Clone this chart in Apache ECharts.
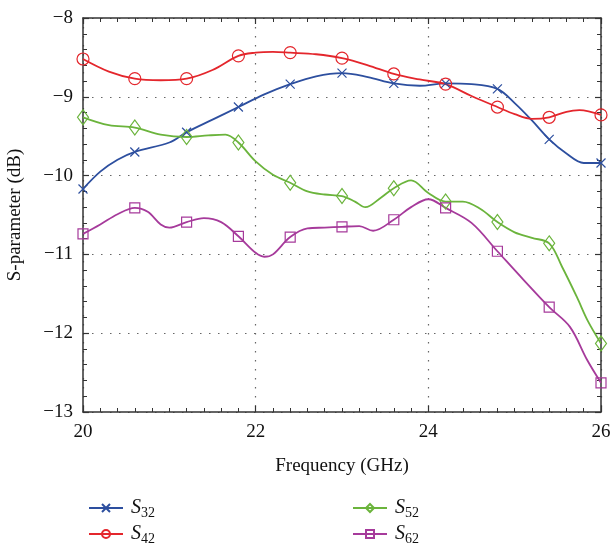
<!DOCTYPE html>
<html>
<head>
<meta charset="utf-8">
<script src="https://cdn.jsdelivr.net/npm/echarts@6/dist/echarts.min.js"></script>
<style>
  html, body { margin: 0; padding: 0; background: #fff; }
  #chart { width: 613px; height: 544px; }
</style>
</head>
<body>
<div id="chart"></div>
<script>
// Frequencies (GHz) where each curve carries a marker
const markerFreqs = [20, 20.6, 21.2, 21.8, 22.4, 23.0, 23.6, 24.2, 24.8, 25.4, 26];

// S32
const s32Freq = [20, 20.2, 20.4, 20.6, 21.0, 21.2, 21.5, 21.8, 22.1, 22.4, 22.7, 23.0, 23.3, 23.6, 23.9, 24.2, 24.5, 24.8, 25.0, 25.2, 25.4, 25.6, 25.8, 26];
const s32Val = [-10.17, -9.95, -9.80, -9.70, -9.58, -9.45, -9.29, -9.13, -8.97, -8.84, -8.74, -8.70, -8.75, -8.83, -8.86, -8.83, -8.84, -8.90, -9.08, -9.30, -9.54, -9.72, -9.84, -9.84];

// S42
const s42Freq = [20, 20.3, 20.6, 20.9, 21.2, 21.5, 21.8, 22.0, 22.2, 22.4, 22.7, 23.0, 23.3, 23.6, 23.9, 24.2, 24.5, 24.8, 25.0, 25.2, 25.4, 25.6, 25.75, 26];
const s42Val = [-8.52, -8.68, -8.77, -8.79, -8.77, -8.66, -8.48, -8.44, -8.43, -8.44, -8.46, -8.51, -8.60, -8.71, -8.78, -8.84, -8.99, -9.13, -9.22, -9.28, -9.26, -9.19, -9.17, -9.23];

// S52
const s52Freq = [20, 20.3, 20.6, 20.9, 21.2, 21.45, 21.65, 21.8, 22.0, 22.2, 22.4, 22.6, 22.8, 23.0, 23.15, 23.27, 23.45, 23.6, 23.8, 24.0, 24.2, 24.4, 24.6, 24.8, 25.0, 25.2, 25.4, 25.55, 25.72, 25.85, 26];
const s52Val = [-9.26, -9.36, -9.39, -9.48, -9.51, -9.49, -9.48, -9.58, -9.82, -9.99, -10.09, -10.20, -10.24, -10.26, -10.33, -10.40, -10.28, -10.16, -10.06, -10.22, -10.33, -10.33, -10.42, -10.59, -10.72, -10.79, -10.86, -11.16, -11.54, -11.85, -12.13];

// S62
const s62Freq = [20, 20.2, 20.4, 20.6, 20.75, 20.9, 21.0, 21.2, 21.4, 21.6, 21.8, 22.0, 22.1, 22.2, 22.4, 22.6, 22.8, 23.0, 23.2, 23.36, 23.6, 23.8, 24.0, 24.2, 24.5, 24.8, 25.1, 25.4, 25.64, 25.84, 26];
const s62Val = [-10.74, -10.62, -10.49, -10.41, -10.46, -10.62, -10.66, -10.59, -10.54, -10.59, -10.77, -10.98, -11.03, -11.00, -10.78, -10.67, -10.66, -10.65, -10.64, -10.70, -10.56, -10.40, -10.30, -10.41, -10.60, -10.96, -11.32, -11.67, -11.92, -12.34, -12.63];

// Axis ticks
const xTicks = { min: 20, max: 26, interval: 2 };
const yTicks = { min: -13, max: -8, interval: 1 };

const FONT = '"Liberation Serif", "DejaVu Serif", serif';
const AXIS_COLOR = '#333';

function pairs(freq, vals) {
  return freq.map((f, i) => [f, vals[i]]);
}
function isMarker(f) {
  return markerFreqs.some(m => Math.abs(m - f) < 1e-6);
}

const crossPath = 'path://M0,0L10,10M0,10L10,0';

function makeSeries(name, freq, vals, color, symbol, size) {
  return {
    name: name,
    type: 'line',
    data: pairs(freq, vals),
    smooth: 0.35,
    color: color,
    showAllSymbol: true,
    symbol: symbol,
    symbolSize: function (v) { return isMarker(v[0]) ? size : 0; },
    lineStyle: { color: color, width: 1.8 },
    itemStyle: { color: 'rgba(255,255,255,0)', borderColor: color, borderWidth: 1.2 },
    emphasis: { disabled: true },
    z: 3
  };
}

const series = [
  makeSeries('S32', s32Freq, s32Val, '#2d4f9f', crossPath, 9),
  makeSeries('S42', s42Freq, s42Val, '#e4262c', 'circle', 12),
  makeSeries('S52', s52Freq, s52Val, '#6bb43c', 'diamond', [11, 15]),
  makeSeries('S62', s62Freq, s62Val, '#a63a9b', 'rect', 10)
];

const legendText = {
  color: '#111',
  fontFamily: FONT,
  padding: [0, 0, 0, 3],
  rich: {
    s: { fontFamily: FONT, fontStyle: 'italic', fontSize: 20, color: '#111' },
    sub: { fontFamily: FONT, fontSize: 14, color: '#111', padding: [10, 0, 0, 0] }
  }
};
function legendFmt(name) {
  return '{s|S}{sub|' + name.slice(1) + '}';
}
// One legend block per entry, laid out in two columns
const legendSlots = [
  { name: 'S32', left: 83, top: 493 },
  { name: 'S42', left: 83, top: 519 },
  { name: 'S52', left: 347, top: 493 },
  { name: 'S62', left: 347, top: 519 }
];
const legends = legendSlots.map(s => ({
  data: [s.name],
  left: s.left, top: s.top,
  itemWidth: 34, itemHeight: 10,
  formatter: legendFmt,
  textStyle: legendText,
  selectedMode: false
}));

function tickAxis(extra) {
  return Object.assign({
    type: 'value',
    axisLine: { show: true, onZero: false, lineStyle: { color: AXIS_COLOR, width: 1.5 } },
    axisTick: { show: true, inside: true, length: 6, lineStyle: { color: AXIS_COLOR, width: 1.2 } },
    minorTick: { show: true, length: 4, lineStyle: { color: AXIS_COLOR, width: 1 } },
    axisLabel: { show: false },
    splitLine: { show: false }
  }, extra);
}

const option = {
  backgroundColor: '#fff',
  animation: false,
  grid: { left: 83, right: 12, top: 18, bottom: 132, outerBoundsMode: 'none' },
  legend: legends,
  xAxis: [
    tickAxis({
      position: 'bottom',
      min: xTicks.min, max: xTicks.max, interval: xTicks.interval,
      minorTick: { show: true, splitNumber: 10, length: 4, lineStyle: { color: AXIS_COLOR, width: 1 } },
      axisLabel: { show: true, color: '#111', fontFamily: FONT, fontSize: 19, margin: 11 },
      splitLine: { show: true, lineStyle: { color: '#666', type: [1.5, 7.5], width: 1.2 } },
      name: 'Frequency (GHz)',
      nameLocation: 'middle',
      nameGap: 45,
      nameTextStyle: { color: '#111', fontFamily: FONT, fontSize: 19 }
    }),
    tickAxis({
      position: 'top',
      min: xTicks.min, max: xTicks.max, interval: xTicks.interval,
      minorTick: { show: true, splitNumber: 10, length: 4, lineStyle: { color: AXIS_COLOR, width: 1 } }
    })
  ],
  yAxis: [
    tickAxis({
      position: 'left',
      min: yTicks.min, max: yTicks.max, interval: yTicks.interval,
      minorTick: { show: true, splitNumber: 5, length: 4, lineStyle: { color: AXIS_COLOR, width: 1 } },
      axisLabel: {
        show: true, color: '#111', fontFamily: FONT, fontSize: 19, margin: 10,
        formatter: v => (v < 0 ? '\u2212' + Math.abs(v) : String(v))
      },
      splitLine: { show: true, lineStyle: { color: '#666', type: [1.5, 7.5], width: 1.2 } },
      name: 'S-parameter (dB)',
      nameLocation: 'middle',
      nameGap: 58,
      nameTextStyle: { color: '#111', fontFamily: FONT, fontSize: 19 }
    }),
    tickAxis({
      position: 'right',
      min: yTicks.min, max: yTicks.max, interval: yTicks.interval,
      minorTick: { show: true, splitNumber: 5, length: 4, lineStyle: { color: AXIS_COLOR, width: 1 } }
    })
  ],
  series: series
};

const chart = echarts.init(document.getElementById('chart'), null, { renderer: 'canvas' });
chart.setOption(option);
</script>
</body>
</html>
